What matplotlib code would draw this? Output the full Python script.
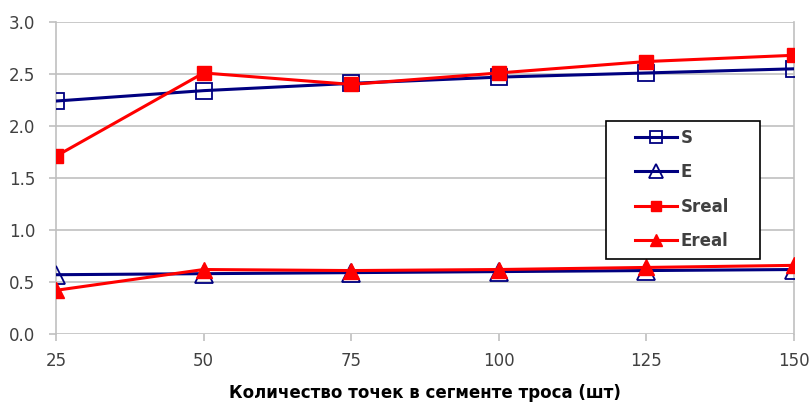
import matplotlib
matplotlib.use('Agg')
import matplotlib.pyplot as plt
from matplotlib.patches import Rectangle

# данные графика
points = [25, 50, 75, 100, 125, 150]
s_vals = [2.24, 2.34, 2.41, 2.47, 2.51, 2.55]
e_vals = [0.57, 0.58, 0.59, 0.60, 0.61, 0.62]
sreal_vals = [1.71, 2.51, 2.40, 2.51, 2.62, 2.68]
ereal_vals = [0.42, 0.62, 0.61, 0.62, 0.64, 0.66]
y_ticks = [0.0, 0.5, 1.0, 1.5, 2.0, 2.5, 3.0]

plt.rcParams['font.family'] = ['DejaVu Sans']

W, H = 810, 403
fig = plt.figure(figsize=(W / 100, H / 100), dpi=100)
ax = fig.add_axes([56 / W, 1 - 334 / H, (794 - 56) / W, (334 - 22) / H])

navy = '#000080'
red = '#ff0000'

ax.plot(points, s_vals, color=navy, lw=2.2, marker='s', ms=12,
        mfc='none', mec=navy, mew=1.3, label='S', zorder=3)
ax.plot(points, e_vals, color=navy, lw=2.2, marker='^', ms=13,
        mfc='none', mec=navy, mew=1.3, label='E', zorder=3)
ax.plot(points, sreal_vals, color=red, lw=2.2, marker='s', ms=10,
        mfc=red, mec=red, label='Sreal', zorder=4)
ax.plot(points, ereal_vals, color=red, lw=2.2, marker='^', ms=11,
        mfc=red, mec=red, label='Ereal', zorder=4)

ax.set_xlim(25, 150)
ax.set_ylim(0, 3.0)
ax.set_xticks(points)
ax.set_yticks(y_ticks)
ax.set_yticklabels([f'{v:.1f}' for v in y_ticks])
ax.grid(axis='y', color='#c0c0c0', lw=1.2)
ax.set_axisbelow(True)

for side in ['top', 'bottom']:
    ax.spines[side].set_visible(False)
for side in ['left', 'right']:
    ax.spines[side].set_color('#c0c0c0')
    ax.spines[side].set_linewidth(1.2)
ax.tick_params(axis='both', colors='#c0c0c0', labelcolor='#404040',
               labelsize=12, length=5, width=1.2)
ax.tick_params(axis='x', pad=8)
ax.tick_params(axis='y', pad=10)

ax.set_xlabel('Количество точек в сегменте троса (шт)', fontsize=12,
              fontweight='bold', color='black', labelpad=10)

# легенда: рамка отдельно, как в Excel
fig.patches.append(Rectangle((606 / W, 1 - 259 / H), (760 - 606) / W, (259 - 121) / H,
                             transform=fig.transFigure, fill=True, facecolor='white',
                             edgecolor='black', lw=1.2, zorder=5))
leg = fig.legend(loc='upper left', bbox_to_anchor=(635 / W, 1 - 129 / H),
                 frameon=False, borderpad=0, borderaxespad=0,
                 handlelength=2.5, handletextpad=0.25, labelspacing=0.98,
                 markerscale=0.75, prop={'weight': 'bold', 'size': 12})
leg.set_zorder(6)
for t in leg.get_texts():
    t.set_color('#404040')

fig.savefig('out.png', dpi=100)
